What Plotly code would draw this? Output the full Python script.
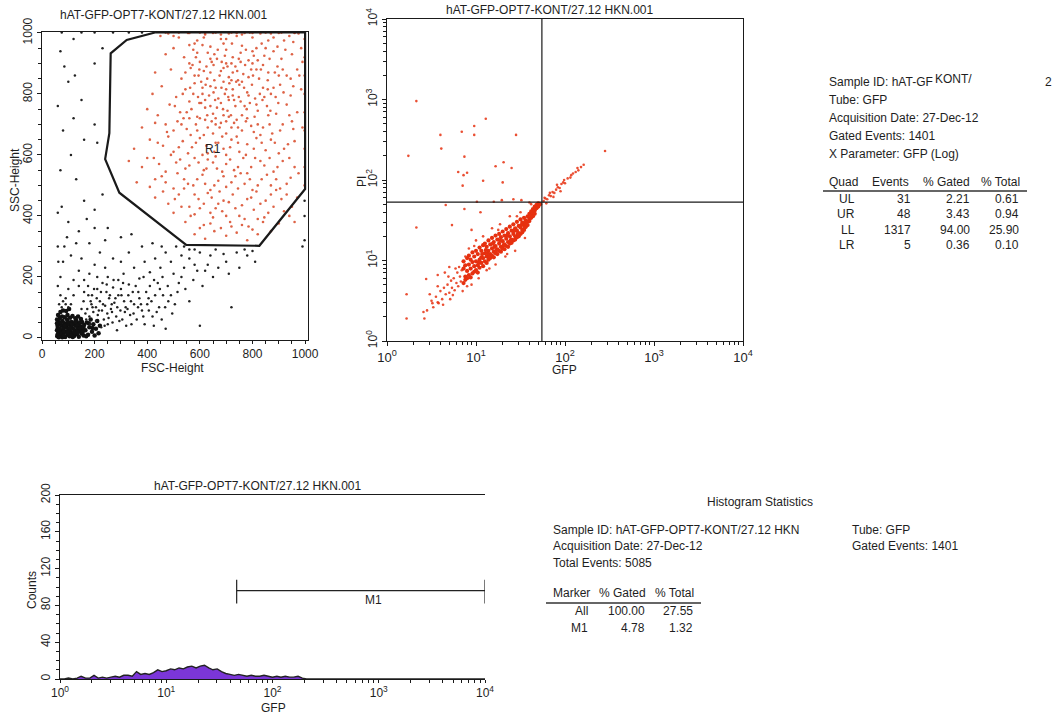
import numpy as np
import plotly.graph_objects as go

W, H = 1057, 715
FONT = "Liberation Sans, Arial, sans-serif"
TXT = "#1e1e1e"
RED = "#d84826"
RED2 = "#e6300f"
PURPLE = "#7b36d8"

title_text = "hAT-GFP-OPT7-KONT/27.12 HKN.001"

# ---------------- Panel 1: FSC-Height vs SSC-Height ----------------
# events inside gate R1 (FSC, SSC)
r1_events = [
    (450,990),(480,998),(520,985),(555,1000),(590,975),(620,995),(650,1000),(680,980),(710,998),(740,990),
    (770,1000),(800,985),(830,998),(860,975),(900,1000),(940,990),(975,998),(610,960),(690,965),(760,958),
    (470,930),(500,950),(540,920),(575,945),(600,905),(630,935),(665,915),(700,945),(725,920),(755,935),
    (785,910),(815,950),(845,925),(880,940),(910,915),(950,930),(990,905),(560,900),(640,955),(720,900),(800,940),
    (430,870),(490,880),(530,850),(565,885),(595,860),(625,890),(655,845),(680,875),(710,855),(735,890),
    (765,865),(795,880),(825,850),(860,870),(895,890),(930,860),(970,880),(605,840),(745,845),(840,895),
    (420,800),(455,825),(510,790),(545,815),(580,835),(610,800),(640,825),(670,785),(700,815),(725,795),
    (750,830),(780,805),(810,785),(840,820),(870,800),(905,830),(945,795),(985,815),(690,840),(620,780),
    (400,750),(440,730),(485,765),(525,740),(560,775),(590,725),(620,755),(650,735),(680,770),(705,745),
    (735,760),(760,730),(790,770),(820,745),(855,760),(890,735),(930,765),(970,740),(660,720),(710,780),
    (380,690),(430,705),(475,675),(515,710),(550,685),(585,700),(615,665),(645,710),(675,690),(700,670),
    (730,705),(760,680),(795,695),(830,665),(865,700),(905,680),(950,710),(990,690),(565,665),(740,715),
    (350,620),(410,650),(460,630),(500,610),(535,645),(570,625),(600,655),(630,605),(660,640),(690,620),
    (720,650),(750,610),(780,635),(815,655),(850,615),(885,640),(920,620),(960,645),(610,600),(700,600),
    (330,580),(380,560),(425,590),(470,545),(510,575),(545,555),(580,590),(615,550),(650,575),(685,545),
    (715,585),(745,560),(780,540),(810,590),(845,565),(880,545),(915,580),(960,560),(660,595),
    (360,510),(410,495),(455,530),(500,490),(540,520),(575,500),(610,535),(640,485),(670,515),(700,495),
    (735,530),(770,505),(800,485),(835,520),(870,500),(905,490),(945,525),(620,505),
    (430,460),(480,440),(520,470),(560,430),(595,455),(630,475),(660,425),(690,450),(725,470),(760,435),
    (795,460),(830,440),(870,470),(910,455),(950,430),
    (500,410),(545,380),(580,405),(615,370),(650,395),(685,415),(715,380),(750,400),(785,365),(820,390),
    (860,410),(900,375),(940,400),
    (580,340),(620,325),(655,350),(700,335),(740,345),(780,320),(820,340),
    (585,920),(615,875),(645,905),(675,860),(705,890),(725,870),(755,905),(785,855),(815,880),(575,800),
    (605,770),(635,795),(665,755),(695,800),(725,815),(755,775),(785,795),(815,765),(845,790),(660,700),
    (690,730),(720,690),(630,690),(600,720),(780,720),(820,700),(860,730),(880,820),(900,860),(700,980),
    (580,965),(870,998),(760,995),(640,870),(700,900),(760,840),(820,910),(550,740),(670,640),(740,660),
    (560,960),(590,935),(615,985),(640,915),(668,945),(695,925),(722,965),(748,915),(775,945),(805,925),
    (835,965),(865,915),(895,955),(925,945),(955,970),(985,950),
    (545,870),(572,895),(598,880),(628,850),(652,895),(683,905),(712,835),(742,875),(772,895),(802,860),
    (832,880),(858,845),(885,870),(915,880),(945,850),(978,860),
    (535,800),(563,820),(593,790),(622,830),(652,805),(682,820),(708,790),(738,840),(768,820),(798,830),
    (828,800),(858,815),(888,790),(918,805),(955,825),
    (505,760),(538,720),(568,750),(598,770),(628,730),(658,780),(688,750),(718,730),(748,790),(778,750),
    (808,725),(838,780),(868,745),(898,770),(940,730),
    (470,700),(500,680),(530,700),(560,720),(590,680),(620,715),(650,670),(680,705),(710,725),(745,690),
    (775,710),(805,675),(840,690),(875,670),(915,700),(955,685),
    (440,640),(480,660),(520,625),(555,605),(585,640),(625,630),(655,610),(685,660),(715,625),(745,640),
    (775,600),(805,620),(835,640),(870,650),(900,605),(935,635),
    (400,590),(445,570),(490,600),(525,585),(560,565),(595,575),(630,585),(665,555),(700,570),(730,550),
    (765,590),(795,560),(830,580),(865,590),(895,560),(940,590),
    (430,520),(470,510),(515,540),(555,505),(590,520),(625,555),(655,500),(690,530),(720,510),(755,540),
    (790,520),(820,500),(855,535),(890,520),(930,505),(975,540),
    (460,480),(505,455),(540,490),(580,470),(615,440),(645,460),(675,480),(710,445),(745,490),(780,455),
    (815,480),(850,450),(890,485),(930,470),(970,460),
    (530,430),(565,400),(600,425),(640,410),(670,440),(700,400),(735,425),(770,390),(805,420),(845,395),
    (880,430),(920,415),(960,380),
    (600,360),(640,375),(680,360),(720,365),(760,370),(800,355),(840,380),(870,350),
    (620,1000),(680,995),(740,1000),(800,1000),(560,1000),(500,990),(880,985),(920,975),(960,1000),
    (655,930),(690,885),(720,845),(660,820),(730,780),(770,760),(700,710),(640,760),(610,820),(580,860),
    (800,900),(850,950),
    (998,500),(998,560),(998,620),(998,680),(998,740),(998,800),(998,860),(998,920),(998,980),
    (470,1001),(520,1001),(600,1001),(660,1001),(720,1001),(790,1001),(850,1001),(910,1001),(960,1001),
]
# events outside the gate (FSC, SSC)
other_events = [
    (165,80),(172,95),(180,70),(188,110),(195,85),(205,100),(212,75),(220,120),(228,90),(235,60),
    (240,105),(248,80),(255,130),(262,95),(268,50),(275,115),(282,70),(290,140),(298,90),(305,60),
    (312,120),(320,40),(325,95),(335,75),(345,150),(350,110),(360,60),(370,130),(380,90),(390,45),
    (400,110),(410,170),(420,70),(430,140),(445,100),(455,60),(470,30),(480,120),(495,80),(160,150),
    (175,170),(190,140),(210,160),(230,180),(250,200),(270,165),(290,190),(310,210),(330,175),(350,230),
    (370,195),(390,250),(410,215),(430,260),(450,230),(470,280),(490,250),(510,300),(530,270),(500,210),
    (520,180),(540,230),(560,260),(580,240),(600,280),(620,220),(640,270),(660,290),(700,250),(720,100),
    (740,280),(780,270),(810,250),(990,300),(600,40),(90,130),(100,160),(70,200),(120,190),(140,220),
    (80,250),(110,270),(60,300),(130,310),(150,260),(95,330),(200,240),(220,280),(180,310),(240,320),
    (60,410),(75,430),(100,380),(140,350),(160,450),(200,420),(230,470),(130,520),(70,550),(110,600),
    (160,650),(210,640),(200,700),(80,680),(120,720),(60,760),(150,780),(100,840),(85,890),(125,860),
    (200,900),(70,940),(120,980),(230,950),(185,120),(205,55),(225,35),(245,150),(265,110),(285,25),
    (300,160),(315,85),(340,45),(365,100),(385,70),(405,130),(425,40),(440,180),(460,140),(250,45),
    (150,95),(158,120),(168,60),(176,140),(183,45),(192,100),(198,160),(208,130),(216,90),(224,150),
    (232,110),(238,40),(246,175),(253,65),(258,140),(266,85),(272,190),(279,130),(286,100),(294,55),
    (302,140),(308,180),(318,100),(328,140),(338,120),(348,80),(356,170),(366,150),(376,110),(386,200),
    (396,150),(406,90),(416,120),(426,190),(436,85),(448,160),(458,200),(468,100),(478,170),(490,140),
    (505,110),(515,150),(530,200),(545,160),(560,120),(575,190),(590,220),(610,170),(630,240),(650,200),
    (670,230),(690,275),(710,210),(750,230),(770,290),(800,285),(540,300),(560,290),(580,290),(455,300),
    (420,310),(380,300),(330,280),(300,250),(270,260),(240,230),(210,200),(180,210),(160,190),(140,170),
    (120,140),(110,110),(100,100),(90,110),(80,120),(70,140),(60,170),(65,110),(75,100),(62,250),
    (85,300),(250,360),(300,330),(340,340),(200,360),(170,390),
    (998,320),(998,400),(998,450),(75,1001),(150,1001),(200,1001),(270,1001),(330,1001),(380,1001),
]
# dense debris cluster near the origin (FSC, SSC)
debris_events = [
    (58,5),(62,18),(60,32),(65,45),(70,8),(72,25),(75,40),(78,55),(80,12),(82,30),(85,48),(88,3),
    (90,20),(92,36),(95,60),(98,10),(100,28),(102,44),(105,5),(108,22),(110,38),(112,52),(115,15),
    (118,30),(120,46),(122,6),(125,25),(128,40),(130,58),(133,12),(136,32),(138,48),(140,4),(143,22),
    (146,38),(150,14),(152,52),(155,28),(158,8),(160,42),(63,52),(68,65),(76,70),(86,68),(97,75),
    (107,66),(116,72),(127,64),(137,70),(148,62),(57,25),(59,40),(66,10),(74,15),(84,22),(94,45),
    (104,14),(114,42),(124,16),(134,44),(144,30),(154,18),(165,25),(170,50),(175,10),(180,35),
    (185,60),(190,20),(195,45),(200,8),(205,30),(210,55),(215,15),(220,40),(57,60),(61,75),(70,85),
    (80,90),(92,88),(103,95),(59,10),(67,30),(77,2),(87,40),(96,18),(106,32),(117,3),(126,52),
    (135,20),(145,50),(157,35),(168,5),(178,48),(192,32),(57,48),(64,2),(71,50),(83,8),(99,52),(111,8),
]
gate_fsc = [433, 322, 261, 256, 240, 294, 548, 826, 1000, 1000, 433]
gate_ssc = [1002, 977, 933, 671, 586, 476, 305, 302, 488, 1002, 1002]

# ---------------- Panel 2: GFP vs PI (values read as log10 decades) ----------------
# dense main population
gfp_pi_core_log10 = [
    (0.86,0.72),(0.86,0.90),(0.86,0.99),(0.88,0.80),(0.88,0.94),(0.88,0.76),(0.90,0.87),(0.90,1.03),
    (0.90,0.78),(0.92,0.95),(0.92,0.82),(0.92,1.06),(0.94,0.90),(0.94,1.01),(0.94,0.79),(0.96,0.84),
    (0.96,0.98),(0.96,1.10),(0.98,0.93),(0.98,1.05),(0.98,0.86),(1.00,0.99),(1.00,0.88),(1.00,1.12),
    (1.02,0.94),(1.02,1.08),(1.02,0.85),(1.04,1.01),(1.04,0.91),(1.04,1.16),(1.06,0.97),(1.06,1.12),
    (1.06,1.04),(1.08,1.03),(1.08,0.93),(1.08,1.19),(1.10,1.09),(1.10,0.99),(1.10,1.21),(1.12,1.05),
    (1.12,1.17),(1.12,0.97),(1.14,1.12),(1.14,1.01),(1.14,1.25),(1.16,1.08),(1.16,1.20),(1.16,1.03),
    (1.18,1.15),(1.18,1.06),(1.18,1.28),(1.20,1.11),(1.20,1.23),(1.20,1.04),(1.22,1.18),(1.22,1.09),
    (1.22,1.31),(1.24,1.14),(1.24,1.26),(1.24,1.08),(1.26,1.21),(1.26,1.12),(1.26,1.33),(1.28,1.17),
    (1.28,1.29),(1.28,1.11),(1.30,1.24),(1.30,1.15),(1.30,1.36),(1.32,1.20),(1.32,1.31),(1.32,1.14),
    (1.34,1.27),(1.34,1.18),(1.34,1.39),(1.36,1.23),(1.36,1.34),(1.36,1.17),(1.38,1.30),(1.38,1.21),
    (1.38,1.42),(1.40,1.26),(1.40,1.37),(1.40,1.22),(1.42,1.33),(1.42,1.25),(1.42,1.45),(1.44,1.30),
    (1.44,1.40),(1.44,1.26),(1.46,1.37),(1.46,1.29),(1.46,1.48),(1.48,1.34),(1.48,1.43),(1.48,1.30),
    (1.50,1.41),(1.50,1.33),(1.50,1.51),(1.52,1.38),(1.52,1.47),(1.52,1.35),(1.54,1.44),(1.54,1.38),
    (1.54,1.53),(1.56,1.42),(1.56,1.50),(1.56,1.47),(1.58,1.48),(1.58,1.55),(1.58,1.44),(1.60,1.52),
    (1.60,1.58),(1.60,1.49),(1.62,1.56),(1.62,1.61),(1.62,1.53),(1.64,1.59),(1.64,1.64),(1.64,1.55),
    (1.66,1.62),(1.66,1.67),(1.66,1.58),(1.68,1.65),(1.68,1.69),(1.70,1.67),(1.70,1.71),(1.72,1.70),
    (1.03,0.97),(1.07,1.08),(1.11,1.13),(1.15,1.05),(1.19,1.21),(1.23,1.13),(1.27,1.25),(1.31,1.19),
    (1.35,1.31),(1.39,1.25),(1.43,1.37),(1.47,1.33),(1.51,1.44),(1.55,1.41),(1.13,1.09),(1.21,1.17),
]
# sparser events around it, extension into UR and the UL / LL strays
gfp_pi_sparse_log10 = [
    (0.45,0.38),(0.48,0.58),(0.50,0.50),(0.52,0.42),(0.55,0.55),(0.57,0.68),(0.58,0.47),(0.60,0.62),
    (0.62,0.52),(0.63,0.45),(0.64,0.66),(0.66,0.58),(0.68,0.70),(0.69,0.80),(0.70,0.60),(0.71,0.52),
    (0.72,0.75),(0.73,0.66),(0.74,0.57),(0.75,0.78),(0.76,0.63),(0.77,0.90),(0.78,0.72),(0.79,0.85),
    (0.80,0.68),(0.81,0.92),(0.82,0.80),(0.83,0.74),(0.84,0.88),(0.85,0.62),(0.87,0.93),(0.88,1.05),
    (0.92,1.15),(0.95,0.70),(1.00,1.25),(1.03,0.78),(1.08,1.30),(1.12,0.88),(1.18,1.40),(1.22,0.95),
    (1.27,1.45),(1.33,1.05),(1.38,1.55),(1.44,1.12),(1.50,1.60),(1.55,1.28),(1.62,1.70),(0.98,1.18),
    (1.15,0.90),(1.25,1.38),(1.35,1.08),(1.46,1.55),(0.90,0.68),(0.65,0.85),(0.70,0.92),
    (1.76,1.74),(1.78,1.77),(1.80,1.76),(1.82,1.81),(1.84,1.80),(1.86,1.85),(1.88,1.84),(1.90,1.88),
    (1.92,1.91),(1.94,1.90),(1.96,1.95),(1.98,1.97),(2.00,1.96),(2.03,2.02),(2.06,2.03),(2.09,2.08),
    (2.12,2.10),(2.15,2.12),(2.18,2.16),(2.21,2.19),(1.79,1.71),(1.87,1.79),(1.95,1.86),(2.45,2.36),
    (1.83,1.84),(1.91,1.94),(1.99,2.00),(2.07,2.06),(2.14,2.15),(1.77,1.78),
    (0.33,2.98),(1.11,2.76),(0.98,2.67),(0.98,2.56),(0.84,2.60),(0.60,2.56),(0.61,2.39),(1.45,2.56),
    (0.24,2.30),(0.87,2.29),(1.22,2.17),(1.31,2.22),(1.40,2.15),(0.80,2.10),(0.90,2.09),(0.86,2.06),
    (1.08,1.99),(1.30,1.97),(0.85,1.93),(1.01,1.73),(1.29,1.75),(0.66,1.69),(1.51,1.75),(0.87,1.64),
    (0.33,1.41),(0.73,1.44),(0.22,0.58),(0.22,0.28),(0.41,0.36),(0.42,0.28),(0.44,0.77),(0.57,0.82),
    (0.57,0.48),(0.51,0.47),(1.20,1.73),(1.42,1.76),(1.05,1.60),(0.95,1.38),(1.60,1.72),
]
quad_gfp = 55
quad_pi = 53

# ---------------- Panel 3: GFP histogram ----------------
hist_gfp = [1.00,1.10,1.20,1.32,1.45,1.58,1.74,1.91,2.09,2.29,2.51,2.75,3.02,3.31,3.63,3.98,
            4.37,4.79,5.25,5.75,6.31,6.92,7.59,8.32,9.12,10.0,11.0,12.0,13.2,14.5,15.8,17.4,
            19.1,20.9,22.9,25.1,27.5,30.2,33.1,36.3,39.8,43.7,47.9,52.5,57.5,63.1,69.2,75.9,
            83.2,91.2,100,110,120,132,145,158,174,191,209,229,251,10000]
hist_counts = [0,0,1,0,1,3,1,1,4,1,2,1,2,3,2,4,
               4,3,8,5,6,5,7,10,8,9,11,10,12,11,13,14,
               12,14,15,12,10,11,8,6,5,4,5,4,3,4,3,3,
               4,3,2,3,2,3,2,2,3,1,0,0,0,0]
m1_start, m1_end, m1_level = 46, 10000, 96
m1_tick_low, m1_tick_high = 82, 108

quad_stats = [("UL", "31", "2.21", "0.61"), ("UR", "48", "3.43", "0.94"),
              ("LL", "1317", "94.00", "25.90"), ("LR", "5", "0.36", "0.10")]
marker_stats = [("All", "100.00", "27.55"), ("M1", "4.78", "1.32")]

fig = go.Figure()

# panel 1 traces
fig.add_trace(go.Scatter(x=[p[0] for p in debris_events], y=[p[1] for p in debris_events],
                         mode="markers", marker=dict(size=4.5, color="#111"),
                         xaxis="x", yaxis="y", hoverinfo="skip"))
fig.add_trace(go.Scatter(x=[p[0] for p in other_events], y=[p[1] for p in other_events],
                         mode="markers", marker=dict(size=2.5, color="#222"),
                         xaxis="x", yaxis="y", hoverinfo="skip"))
fig.add_trace(go.Scatter(x=[p[0] for p in r1_events], y=[p[1] for p in r1_events],
                         mode="markers", marker=dict(size=2.6, color=RED, opacity=0.85),
                         xaxis="x", yaxis="y", hoverinfo="skip"))
fig.add_trace(go.Scatter(x=gate_fsc, y=gate_ssc, mode="lines",
                         line=dict(color="#1a1a1a", width=2.2),
                         xaxis="x", yaxis="y", hoverinfo="skip"))

# panel 2 traces
fig.add_trace(go.Scatter(x=[10 ** p[0] for p in gfp_pi_sparse_log10],
                         y=[10 ** p[1] for p in gfp_pi_sparse_log10],
                         mode="markers", marker=dict(size=2.6, color=RED2, opacity=0.85),
                         xaxis="x2", yaxis="y2", hoverinfo="skip"))
fig.add_trace(go.Scatter(x=[10 ** p[0] for p in gfp_pi_core_log10],
                         y=[10 ** p[1] for p in gfp_pi_core_log10],
                         mode="markers", marker=dict(size=4.2, color=RED2),
                         xaxis="x2", yaxis="y2", hoverinfo="skip"))
fig.add_trace(go.Scatter(x=[quad_gfp, quad_gfp], y=[1, 10000], mode="lines",
                         line=dict(color="#1a1a1a", width=1.2), xaxis="x2", yaxis="y2"))
fig.add_trace(go.Scatter(x=[1, 10000], y=[quad_pi, quad_pi], mode="lines",
                         line=dict(color="#1a1a1a", width=1.2), xaxis="x2", yaxis="y2"))

# panel 3 traces
fig.add_trace(go.Scatter(x=hist_gfp, y=hist_counts, mode="lines", fill="tozeroy",
                         fillcolor=PURPLE, line=dict(color="#222", width=1.4),
                         xaxis="x3", yaxis="y3", hoverinfo="skip"))
fig.add_trace(go.Scatter(x=[m1_start, m1_start, None, m1_start, m1_end, None, m1_end, m1_end],
                         y=[m1_tick_low, m1_tick_high, None, m1_level, m1_level, None, m1_tick_low, m1_tick_high],
                         mode="lines", line=dict(color="#222", width=1.2),
                         xaxis="x3", yaxis="y3", hoverinfo="skip"))


def px(x):
    return x / W


def py(y):
    return 1 - y / H


LINE = "#1a1a1a"
base = dict(showgrid=False, zeroline=False, showline=True, linecolor=LINE, linewidth=1,
            automargin=False, ticks="outside", tickcolor=LINE)
font12 = dict(family=FONT, size=12, color=TXT)
font13 = dict(family=FONT, size=13, color=TXT)

decade_text = ["10<sup>0</sup>", "10<sup>1</sup>", "10<sup>2</sup>", "10<sup>3</sup>", "10<sup>4</sup>"]
decades = [1, 10, 100, 1000, 10000]
minor_log = [m * d for d in [1, 10, 100, 1000] for m in range(2, 10)]

fig.update_layout(
    template="none",
    width=W, height=H, margin=dict(l=0, r=0, t=0, b=0, pad=0, autoexpand=False),
    paper_bgcolor="white", plot_bgcolor="white", showlegend=False,
    font=font12,
    xaxis=dict(domain=[px(42), px(308)], range=[0, 1011], anchor="y", mirror=True,
               tickvals=[0, 200, 400, 600, 800, 1000], ticklen=3, tickfont=font12,
               minor=dict(dtick=50, ticks="outside", ticklen=3, tickcolor=LINE), **base),
    yaxis=dict(domain=[py(340), py(32)], range=[-7, 1003], anchor="x", mirror=True,
               tickvals=[0, 200, 400, 600, 800, 1000], ticklen=4, tickangle=-90, tickfont=font12,
               minor=dict(dtick=50, ticks="outside", ticklen=3, tickcolor=LINE), **base),
    xaxis2=dict(domain=[px(387), px(743)], type="log", range=[0, 4], anchor="y2", mirror=True,
                tickvals=decades, ticktext=decade_text, ticklen=4, tickfont=font13,
                minor=dict(tickvals=minor_log, ticks="outside", ticklen=3, tickcolor=LINE), **base),
    yaxis2=dict(domain=[py(341), py(19)], type="log", range=[0, 4], anchor="x2", mirror=True,
                tickvals=decades, ticktext=decade_text, ticklen=4, tickangle=-90, tickfont=font12,
                minor=dict(tickvals=minor_log, ticks="outside", ticklen=3, tickcolor=LINE), **base),
    xaxis3=dict(domain=[px(60), px(485)], type="log", range=[0, 4], anchor="y3", mirror=True,
                tickvals=decades, ticktext=decade_text, ticklen=3, tickfont=font12,
                minor=dict(tickvals=minor_log, ticks="outside", ticklen=3, tickcolor=LINE), **base),
    yaxis3=dict(domain=[py(679), py(495)], range=[0, 200], anchor="x3",
                tickvals=[0, 40, 80, 120, 160, 200], ticklen=4, tickangle=-90, tickfont=font12,
                minor=dict(dtick=10, ticks="outside", ticklen=3, tickcolor=LINE), **base),
)

ann = []


def text(x, y, s, anchor="left", size=12, angle=0):
    ann.append(dict(x=px(x), y=py(y), xref="paper", yref="paper", text=s, showarrow=False,
                    xanchor=anchor, yanchor="middle", textangle=angle,
                    font=dict(family=FONT, size=size, color=TXT)))


# titles
text(164, 15, title_text, "center")
text(550, 10, title_text, "center")
text(258, 486, title_text, "center")
# axis titles
text(172, 368, "FSC-Height", "center")
text(15, 180, "SSC-Height", "center", angle=-90)
text(564, 370, "GFP", "center")
text(362, 182, "PI", "center", angle=-90)
text(273, 708, "GFP", "center")
text(32, 590, "Counts", "center", angle=-90)
# region / marker labels
text(213, 149, "R1", "center")
text(373, 600, "M1", "center")

# quadrant stats block
text(827, 82, "Sample ID: hAT-GF")
text(933, 79, "KONT/")
text(1043, 82, "2")
text(827, 100, "Tube: GFP")
text(827, 118, "Acquisition Date: 27-Dec-12")
text(827, 136, "Gated Events: 1401")
text(827, 154, "X Parameter: GFP (Log)")
text(827, 182, "Quad")
text(911, 182, "Events", "right")
text(972, 182, "% Gated", "right")
text(1022, 182, "% Total", "right")
for i, row in enumerate(quad_stats):
    yy = 199 + i * 15.4
    text(857, yy, row[0], "right")
    text(913, yy, row[1], "right")
    text(972, yy, row[2], "right")
    text(1021, yy, row[3], "right")

# histogram stats block
text(760, 502, "Histogram Statistics", "center")
text(551, 530, "Sample ID: hAT-GFP-OPT7-KONT/27.12 HKN")
text(551, 546, "Acquisition Date: 27-Dec-12")
text(551, 563, "Total Events: 5085")
text(850, 530, "Tube: GFP")
text(850, 546, "Gated Events: 1401")
text(551, 593, "Marker")
text(648, 593, "% Gated", "right")
text(696, 593, "% Total", "right")
for i, row in enumerate(marker_stats):
    yy = 611 + i * 17
    text(590, yy, row[0], "right")
    text(647, yy, row[1], "right")
    text(695, yy, row[2], "right")

fig.update_layout(annotations=ann)

# table underlines
fig.add_shape(type="line", xref="paper", yref="paper", x0=px(823), x1=px(1027), y0=py(191), y1=py(191),
              line=dict(color="#333", width=1.5))
fig.add_shape(type="line", xref="paper", yref="paper", x0=px(546), x1=px(701), y0=py(603), y1=py(603),
              line=dict(color="#333", width=1.5))

fig.write_html("out.html", config={"displayModeBar": False},
               post_script="document.body.style.margin='0';document.body.style.padding='0';")
